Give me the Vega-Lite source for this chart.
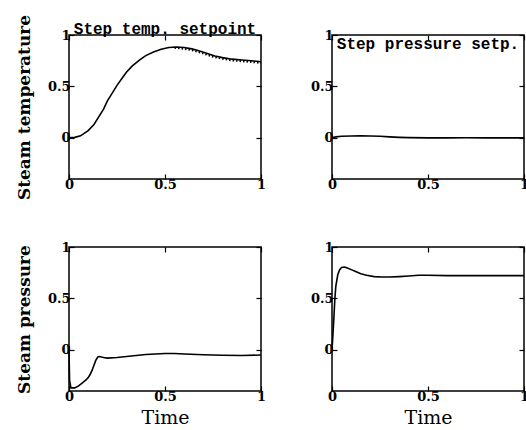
{
  "$schema": "https://vega.github.io/schema/vega-lite/v6.json",
  "padding": {"left": 14, "top": 13, "right": 0, "bottom": 0},
  "autosize": {"type": "pad"},
  "background": "white",
  "config": {
    "view": {"stroke": "black", "strokeWidth": 1.5},
    "font": "DejaVu Serif",
    "axis": {"grid": false, "domain": false, "tickColor": "black", "tickSize": -5, "tickWidth": 1.2, "labelPadding": 4, "labelFont": "DejaVu Serif", "labelFontSize": 13, "labelFontWeight": "bold", "labelColor": "black", "titleColor": "black", "titleFont": "DejaVu Serif", "labelFlush": false},
    "title": {"font": "Liberation Mono", "fontSize": 16, "fontWeight": "bold", "color": "black", "offset": -23}
  },
  "data": {"values": [
    {"panel": "A", "s": "solid", "t": 0, "v": 0},
    {"panel": "A", "s": "solid", "t": 0.03, "v": 0.005},
    {"panel": "A", "s": "solid", "t": 0.06, "v": 0.02},
    {"panel": "A", "s": "solid", "t": 0.1, "v": 0.07},
    {"panel": "A", "s": "solid", "t": 0.13, "v": 0.13},
    {"panel": "A", "s": "solid", "t": 0.15, "v": 0.19},
    {"panel": "A", "s": "solid", "t": 0.18, "v": 0.28},
    {"panel": "A", "s": "solid", "t": 0.2, "v": 0.36},
    {"panel": "A", "s": "solid", "t": 0.23, "v": 0.45},
    {"panel": "A", "s": "solid", "t": 0.25, "v": 0.51},
    {"panel": "A", "s": "solid", "t": 0.28, "v": 0.59},
    {"panel": "A", "s": "solid", "t": 0.3, "v": 0.64},
    {"panel": "A", "s": "solid", "t": 0.33, "v": 0.7},
    {"panel": "A", "s": "solid", "t": 0.37, "v": 0.76},
    {"panel": "A", "s": "solid", "t": 0.4, "v": 0.8},
    {"panel": "A", "s": "solid", "t": 0.44, "v": 0.835},
    {"panel": "A", "s": "solid", "t": 0.48, "v": 0.862},
    {"panel": "A", "s": "solid", "t": 0.52, "v": 0.878},
    {"panel": "A", "s": "solid", "t": 0.56, "v": 0.883},
    {"panel": "A", "s": "solid", "t": 0.6, "v": 0.878},
    {"panel": "A", "s": "solid", "t": 0.64, "v": 0.865},
    {"panel": "A", "s": "solid", "t": 0.68, "v": 0.845},
    {"panel": "A", "s": "solid", "t": 0.72, "v": 0.82},
    {"panel": "A", "s": "solid", "t": 0.76, "v": 0.795},
    {"panel": "A", "s": "solid", "t": 0.8, "v": 0.78},
    {"panel": "A", "s": "solid", "t": 0.85, "v": 0.765},
    {"panel": "A", "s": "solid", "t": 0.9, "v": 0.757},
    {"panel": "A", "s": "solid", "t": 0.95, "v": 0.75},
    {"panel": "A", "s": "solid", "t": 1, "v": 0.74},
    {"panel": "A", "s": "dot", "t": 0.55, "v": 0.875},
    {"panel": "A", "s": "dot", "t": 0.6, "v": 0.866},
    {"panel": "A", "s": "dot", "t": 0.65, "v": 0.848},
    {"panel": "A", "s": "dot", "t": 0.7, "v": 0.82},
    {"panel": "A", "s": "dot", "t": 0.75, "v": 0.788},
    {"panel": "A", "s": "dot", "t": 0.8, "v": 0.768},
    {"panel": "A", "s": "dot", "t": 0.85, "v": 0.753},
    {"panel": "A", "s": "dot", "t": 0.9, "v": 0.745},
    {"panel": "A", "s": "dot", "t": 0.95, "v": 0.738},
    {"panel": "A", "s": "dot", "t": 1, "v": 0.728},
    {"panel": "B", "s": "solid", "t": 0, "v": 0},
    {"panel": "B", "s": "solid", "t": 0.02, "v": 0.01},
    {"panel": "B", "s": "solid", "t": 0.05, "v": 0.015},
    {"panel": "B", "s": "solid", "t": 0.1, "v": 0.018},
    {"panel": "B", "s": "solid", "t": 0.15, "v": 0.02},
    {"panel": "B", "s": "solid", "t": 0.2, "v": 0.018},
    {"panel": "B", "s": "solid", "t": 0.25, "v": 0.015},
    {"panel": "B", "s": "solid", "t": 0.3, "v": 0.01},
    {"panel": "B", "s": "solid", "t": 0.35, "v": 0.005},
    {"panel": "B", "s": "solid", "t": 0.4, "v": 0.002},
    {"panel": "B", "s": "solid", "t": 0.5, "v": 0},
    {"panel": "B", "s": "solid", "t": 0.6, "v": 0},
    {"panel": "B", "s": "solid", "t": 0.7, "v": 0.001},
    {"panel": "B", "s": "solid", "t": 0.8, "v": 0},
    {"panel": "B", "s": "solid", "t": 0.9, "v": 0},
    {"panel": "B", "s": "solid", "t": 1, "v": 0},
    {"panel": "C", "s": "solid", "t": 0, "v": 0},
    {"panel": "C", "s": "solid", "t": 0.003, "v": -0.3},
    {"panel": "C", "s": "solid", "t": 0.01, "v": -0.37},
    {"panel": "C", "s": "solid", "t": 0.03, "v": -0.37},
    {"panel": "C", "s": "solid", "t": 0.05, "v": -0.35},
    {"panel": "C", "s": "solid", "t": 0.07, "v": -0.32},
    {"panel": "C", "s": "solid", "t": 0.09, "v": -0.29},
    {"panel": "C", "s": "solid", "t": 0.1, "v": -0.27},
    {"panel": "C", "s": "solid", "t": 0.11, "v": -0.24},
    {"panel": "C", "s": "solid", "t": 0.12, "v": -0.2},
    {"panel": "C", "s": "solid", "t": 0.13, "v": -0.15},
    {"panel": "C", "s": "solid", "t": 0.14, "v": -0.1},
    {"panel": "C", "s": "solid", "t": 0.15, "v": -0.07},
    {"panel": "C", "s": "solid", "t": 0.16, "v": -0.065},
    {"panel": "C", "s": "solid", "t": 0.18, "v": -0.075},
    {"panel": "C", "s": "solid", "t": 0.2, "v": -0.08},
    {"panel": "C", "s": "solid", "t": 0.25, "v": -0.075},
    {"panel": "C", "s": "solid", "t": 0.3, "v": -0.065},
    {"panel": "C", "s": "solid", "t": 0.35, "v": -0.055},
    {"panel": "C", "s": "solid", "t": 0.4, "v": -0.045},
    {"panel": "C", "s": "solid", "t": 0.5, "v": -0.035},
    {"panel": "C", "s": "solid", "t": 0.55, "v": -0.035},
    {"panel": "C", "s": "solid", "t": 0.6, "v": -0.04},
    {"panel": "C", "s": "solid", "t": 0.7, "v": -0.048},
    {"panel": "C", "s": "solid", "t": 0.8, "v": -0.052},
    {"panel": "C", "s": "solid", "t": 0.9, "v": -0.055},
    {"panel": "C", "s": "solid", "t": 1, "v": -0.05},
    {"panel": "D", "s": "solid", "t": 0, "v": 0},
    {"panel": "D", "s": "solid", "t": 0.005, "v": 0.15},
    {"panel": "D", "s": "solid", "t": 0.01, "v": 0.32},
    {"panel": "D", "s": "solid", "t": 0.015, "v": 0.5},
    {"panel": "D", "s": "solid", "t": 0.02, "v": 0.62},
    {"panel": "D", "s": "solid", "t": 0.03, "v": 0.73},
    {"panel": "D", "s": "solid", "t": 0.04, "v": 0.78},
    {"panel": "D", "s": "solid", "t": 0.05, "v": 0.8},
    {"panel": "D", "s": "solid", "t": 0.065, "v": 0.805},
    {"panel": "D", "s": "solid", "t": 0.08, "v": 0.795},
    {"panel": "D", "s": "solid", "t": 0.1, "v": 0.78},
    {"panel": "D", "s": "solid", "t": 0.12, "v": 0.765},
    {"panel": "D", "s": "solid", "t": 0.15, "v": 0.74},
    {"panel": "D", "s": "solid", "t": 0.18, "v": 0.725},
    {"panel": "D", "s": "solid", "t": 0.22, "v": 0.712},
    {"panel": "D", "s": "solid", "t": 0.26, "v": 0.708},
    {"panel": "D", "s": "solid", "t": 0.3, "v": 0.708},
    {"panel": "D", "s": "solid", "t": 0.35, "v": 0.712},
    {"panel": "D", "s": "solid", "t": 0.4, "v": 0.718},
    {"panel": "D", "s": "solid", "t": 0.45, "v": 0.725},
    {"panel": "D", "s": "solid", "t": 0.5, "v": 0.725},
    {"panel": "D", "s": "solid", "t": 0.6, "v": 0.722},
    {"panel": "D", "s": "solid", "t": 0.7, "v": 0.722},
    {"panel": "D", "s": "solid", "t": 0.8, "v": 0.722},
    {"panel": "D", "s": "solid", "t": 0.9, "v": 0.722},
    {"panel": "D", "s": "solid", "t": 1, "v": 0.722}
  ]},
  "columns": 2,
  "bounds": "flush",
  "spacing": {"row": 68, "column": 71},
  "concat": [
    {
      "width": 192, "height": 144,
      "title": {"text": "Step temp. setpoint"},
      "transform": [{"filter": "datum.panel == 'A'"}],
      "layer": [
        {"transform": [{"filter": "datum.s == 'solid'"}],
         "mark": {"type": "line", "color": "black", "strokeWidth": 1.6},
         "encoding": {
           "x": {"field": "t", "type": "quantitative", "scale": {"domain": [0, 1]}, "axis": {"values": [0, 0.5, 1], "format": "~g", "title": null}},
           "y": {"field": "v", "type": "quantitative", "scale": {"domain": [-0.4, 1]}, "axis": {"values": [0, 0.5, 1], "format": "~g", "title": "Steam temperature", "titleFontSize": 17, "titleFontWeight": "bold", "titlePadding": 14}}
         }},
        {"transform": [{"filter": "datum.s == 'dot'"}],
         "mark": {"type": "line", "color": "black", "strokeWidth": 2, "strokeDash": [1.5, 2]},
         "encoding": {
           "x": {"field": "t", "type": "quantitative", "axis": {"orient": "top", "values": [0, 0.5, 1], "labels": false, "labelPadding": 0, "title": null}},
           "y": {"field": "v", "type": "quantitative", "axis": {"orient": "right", "values": [0, 0.5, 1], "labels": false, "labelPadding": 0, "title": null}}
         }}
      ],
      "resolve": {"axis": {"x": "independent", "y": "independent"}}
    },
    {
      "width": 192, "height": 144,
      "title": {"text": "Step pressure setp."},
      "transform": [{"filter": "datum.panel == 'B'"}],
      "layer": [
        {"mark": {"type": "line", "color": "black", "strokeWidth": 1.6},
         "encoding": {
           "x": {"field": "t", "type": "quantitative", "scale": {"domain": [0, 1]}, "axis": {"values": [0, 0.5, 1], "format": "~g", "title": null}},
           "y": {"field": "v", "type": "quantitative", "scale": {"domain": [-0.4, 1]}, "axis": {"values": [0, 0.5, 1], "format": "~g", "title": null}}
         }},
        {"mark": {"type": "line", "opacity": 0},
         "encoding": {
           "x": {"field": "t", "type": "quantitative", "axis": {"orient": "top", "values": [0, 0.5, 1], "labels": false, "labelPadding": 0, "title": null}},
           "y": {"field": "v", "type": "quantitative", "axis": {"orient": "right", "values": [0, 0.5, 1], "labels": false, "labelPadding": 0, "title": null}}
         }}
      ],
      "resolve": {"axis": {"x": "independent", "y": "independent"}}
    },
    {
      "width": 192, "height": 144,
      "transform": [{"filter": "datum.panel == 'C'"}],
      "layer": [
        {"mark": {"type": "line", "color": "black", "strokeWidth": 1.6},
         "encoding": {
           "x": {"field": "t", "type": "quantitative", "scale": {"domain": [0, 1]}, "axis": {"values": [0, 0.5, 1], "format": "~g", "title": "Time", "titleFontSize": 19, "titleFontWeight": "normal", "titlePadding": 5}},
           "y": {"field": "v", "type": "quantitative", "scale": {"domain": [-0.4, 1]}, "axis": {"values": [0, 0.5, 1], "format": "~g", "title": "Steam pressure", "titleFontSize": 17, "titleFontWeight": "bold", "titlePadding": 14}}
         }},
        {"mark": {"type": "line", "opacity": 0},
         "encoding": {
           "x": {"field": "t", "type": "quantitative", "axis": {"orient": "top", "values": [0, 0.5, 1], "labels": false, "labelPadding": 0, "title": null}},
           "y": {"field": "v", "type": "quantitative", "axis": {"orient": "right", "values": [0, 0.5, 1], "labels": false, "labelPadding": 0, "title": null}}
         }}
      ],
      "resolve": {"axis": {"x": "independent", "y": "independent"}}
    },
    {
      "width": 192, "height": 144,
      "transform": [{"filter": "datum.panel == 'D'"}],
      "layer": [
        {"mark": {"type": "line", "color": "black", "strokeWidth": 1.6},
         "encoding": {
           "x": {"field": "t", "type": "quantitative", "scale": {"domain": [0, 1]}, "axis": {"values": [0, 0.5, 1], "format": "~g", "title": "Time", "titleFontSize": 19, "titleFontWeight": "normal", "titlePadding": 5}},
           "y": {"field": "v", "type": "quantitative", "scale": {"domain": [-0.4, 1]}, "axis": {"values": [0, 0.5, 1], "format": "~g", "title": null}}
         }},
        {"mark": {"type": "line", "opacity": 0},
         "encoding": {
           "x": {"field": "t", "type": "quantitative", "axis": {"orient": "top", "values": [0, 0.5, 1], "labels": false, "labelPadding": 0, "title": null}},
           "y": {"field": "v", "type": "quantitative", "axis": {"orient": "right", "values": [0, 0.5, 1], "labels": false, "labelPadding": 0, "title": null}}
         }}
      ],
      "resolve": {"axis": {"x": "independent", "y": "independent"}}
    }
  ]
}
